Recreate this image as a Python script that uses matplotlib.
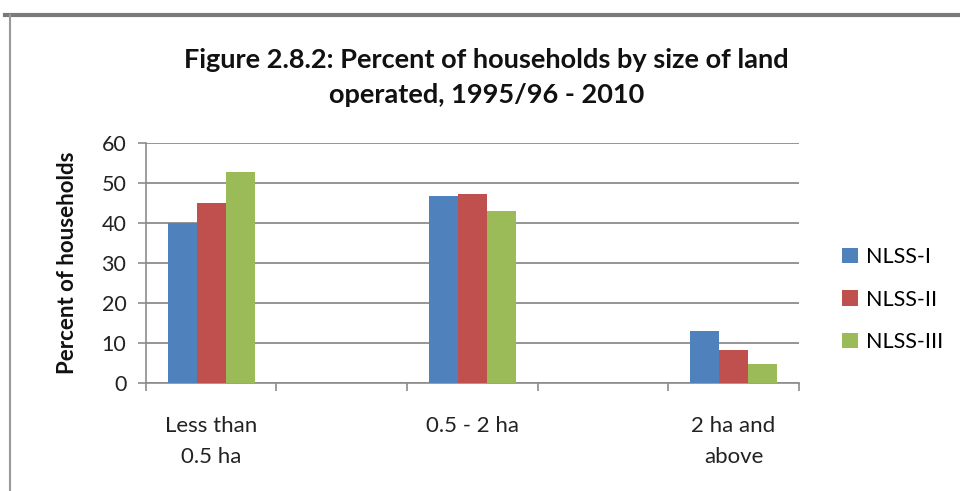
import matplotlib
matplotlib.use("Agg")
import matplotlib.pyplot as plt
import numpy as np
from matplotlib.lines import Line2D
from matplotlib.patches import Patch

categories = ["Less than\n0.5 ha", "", "0.5 - 2 ha", "", "2 ha and\nabove"]
series_names = ["NLSS-I", "NLSS-II", "NLSS-III"]
nlss1 = [40.0, np.nan, 46.8, np.nan, 13.0]
nlss2 = [44.9, np.nan, 47.2, np.nan, 8.3]
nlss3 = [52.6, np.nan, 42.9, np.nan, 4.8]
yticks = [0, 10, 20, 30, 40, 50, 60]
colors = ["#4F81BD", "#C0504D", "#9BBB59"]

plt.rcParams['font.family'] = ['Lato', 'DejaVu Sans']

fig = plt.figure(figsize=(9.6, 4.91), dpi=100)
ax = fig.add_axes([0.152, 0.22, 0.68, 0.489])

x = np.arange(len(categories))
w = 0.222
for i, (vals, c, n) in enumerate(zip([nlss1, nlss2, nlss3], colors, series_names)):
    ax.bar(x + (i - 1) * w, vals, width=w, color=c, label=n, zorder=3)

ax.set_xlim(-0.5, len(categories) - 0.5)
ax.set_ylim(0, 60)
ax.set_yticks(yticks)
ax.set_yticklabels([str(t) for t in yticks], fontsize=15.5, color="#222222")
ax.yaxis.grid(True, color="#8c8c8c", linewidth=1.3, zorder=0)
ax.set_axisbelow(True)

ax.set_xticks(x)
ax.set_xticklabels(categories, fontsize=16, color="#222222", linespacing=1.65)
ax.set_xticks(np.arange(-0.5, len(categories), 1.0), minor=True)
ax.tick_params(axis='x', which='major', length=0, pad=24)
ax.tick_params(axis='x', which='minor', length=6, color="#8c8c8c", width=1.2)
ax.tick_params(axis='y', length=6, color="#8c8c8c", width=1.2, pad=8)

for s in ["top", "right"]:
    ax.spines[s].set_visible(False)
for s in ["left", "bottom"]:
    ax.spines[s].set_color("#8c8c8c")
    ax.spines[s].set_linewidth(1.2)

ax.set_ylabel("Percent of households", fontsize=16, fontweight="bold", labelpad=17, color="#111111")

fig.text(0.507, 0.843, "Figure 2.8.2: Percent of households by size of land\noperated, 1995/96 - 2010",
         ha="center", va="center", fontsize=19.5, fontweight="bold", linespacing=1.55, color="#111111")

handles = [Patch(facecolor=c, edgecolor="none") for c in colors]
fig.legend(handles, series_names, loc="center left", bbox_to_anchor=(0.857, 0.39),
           frameon=False, fontsize=15.5, handlelength=0.75, handleheight=0.75,
           handletextpad=0.35, labelspacing=1.05)

# frame lines of the screenshot
fig.add_artist(Line2D([0.005, 1.0], [0.969, 0.969], transform=fig.transFigure, color="#7a7a7a", linewidth=3))
fig.add_artist(Line2D([0.0105, 0.0105], [0.0, 0.969], transform=fig.transFigure, color="#9a9a9a", linewidth=1.5))

fig.savefig("out.png", dpi=100)
